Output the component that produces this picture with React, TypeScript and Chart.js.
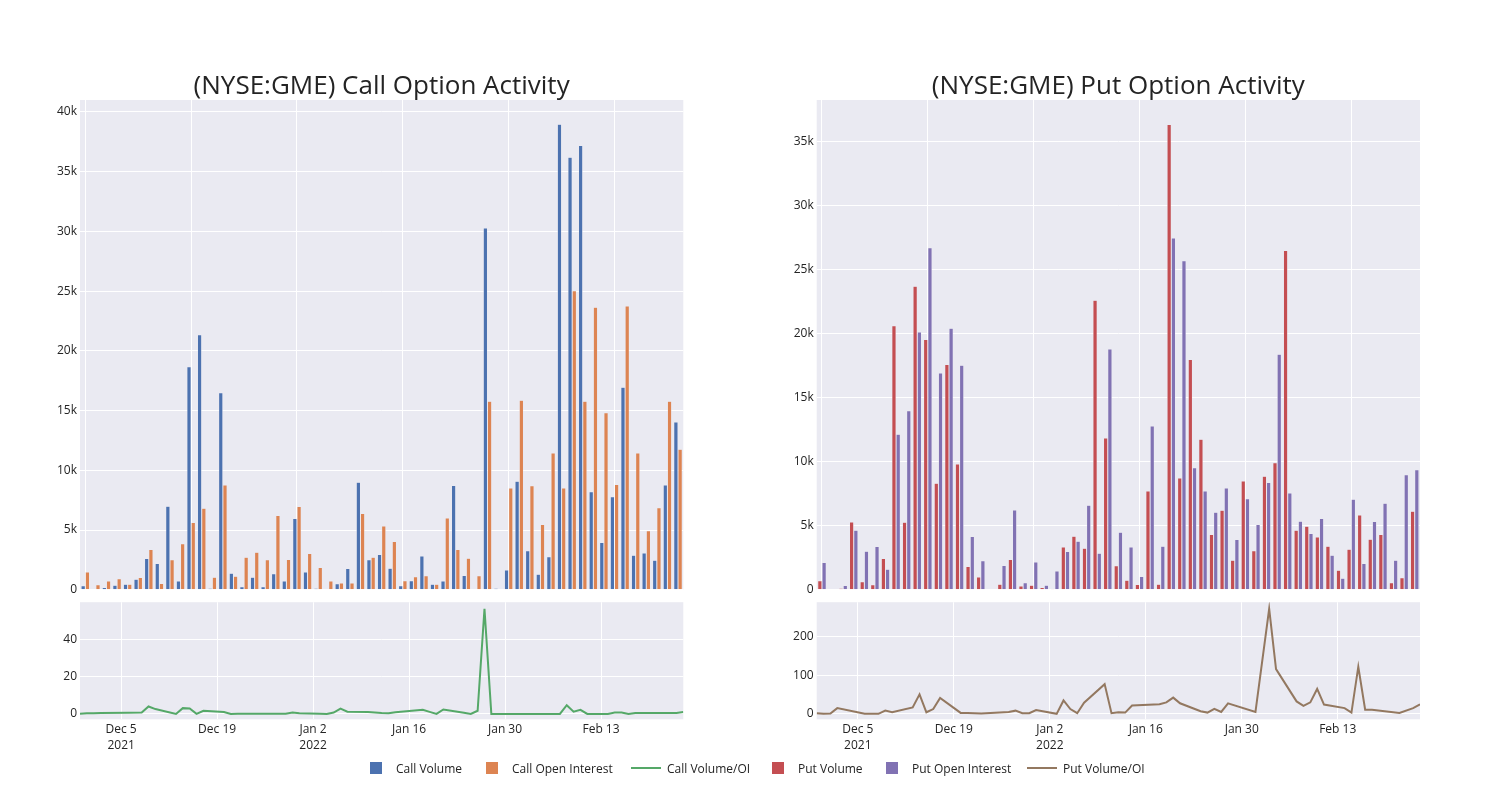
import React, { useEffect, useRef } from "react";
import { Chart, registerables } from "chart.js";

Chart.register(...registerables);

// ---------- data ----------
const barDates = [
  "2021-11-29", "2021-11-30", "2021-12-01", "2021-12-02", "2021-12-06", "2021-12-08", "2021-12-09", "2021-12-10",
  "2021-12-13", "2021-12-14", "2021-12-15", "2021-12-16", "2021-12-17", "2021-12-20", "2021-12-21", "2021-12-22",
  "2021-12-23", "2021-12-27", "2021-12-28", "2021-12-29", "2021-12-30", "2021-12-31", "2022-01-03", "2022-01-04",
  "2022-01-05", "2022-01-06", "2022-01-07", "2022-01-10", "2022-01-11", "2022-01-12", "2022-01-13", "2022-01-14",
  "2022-01-18", "2022-01-19", "2022-01-20", "2022-01-21", "2022-01-24", "2022-01-25", "2022-01-26", "2022-01-27",
  "2022-01-28", "2022-02-01", "2022-02-03", "2022-02-04", "2022-02-07", "2022-02-08", "2022-02-09", "2022-02-10",
  "2022-02-11", "2022-02-14", "2022-02-15", "2022-02-16", "2022-02-17", "2022-02-18", "2022-02-22", "2022-02-24",
  "2022-02-25",
];
const lineDates = barDates;

const callVolume = [
  330, 50, 200, 390, 470, 890, 2620, 2200, 7000, 730, 18680, 21360, 140, 16500, 1390, 250, 1060, 250, 1340, 730,
  5970, 1500, 140, 60, 500, 1780, 9000, 2510, 2960, 1810, 330, 750, 2820, 470, 730, 8730, 1200, 60, 30280, 140,
  1650, 9090, 3260, 1310, 2760, 38980, 36200, 37200, 8200, 3960, 7780, 16950, 2900, 3070, 2480, 8780, 14050,
];
const callOpenInterest = [
  1480, 420, 730, 920, 470, 1030, 3370, 530, 2510, 3850, 5630, 6830, 1060, 8780, 1140, 2730, 3150, 2510, 6220, 2540,
  6970, 3040, 1870, 730, 560, 560, 6390, 2730, 5350, 4040, 750, 1090, 1170, 470, 6020, 3370, 2650, 1170, 15780, 0,
  8530, 15870, 8700, 5470, 11460, 8530, 25040, 15780, 23650, 14810, 8810, 23760, 11460, 4940, 6860, 15780, 11770,
];
const putVolume = [
  700, 0, 130, 5300, 620, 390, 2440, 20630, 5280, 23700, 19540, 8320, 17590, 9820, 1820, 990, 0, 440, 2360, 290,
  360, 180, 80, 3350, 4180, 3250, 22610, 11850, 1870, 750, 420, 7720, 440, 36330, 8730, 17980, 11750, 4310, 6210, 2310,
  8500, 3040, 8860, 9930, 26500, 4650, 4960, 4130, 3400, 1530, 3170, 5850, 3950, 4310, 550, 940, 6130,
];
const putOpenInterest = [
  2130, 50, 340, 4650, 3010, 3380, 1610, 12140, 13980, 20140, 26710, 16940, 20430, 17540, 4160, 2260, 0, 1900, 6240, 550,
  2180, 360, 1460, 2990, 3790, 6600, 2860, 18810, 4500, 3350, 1040, 12790, 3400, 27470, 25700, 9540, 7720, 6050, 7950, 3920,
  7120, 5090, 8370, 18400, 7560, 5350, 4390, 5560, 2700, 910, 7070, 2050, 5330, 6760, 2310, 8990, 9380,
];
const callVolumeOI = [
  0.1, 0.3, 0.4, 0.5, 0.6, 0.7, 4.0, 2.6, 0.0, 3.1, 2.9, 0.0, 1.7, 1.0, 0.0, 0.1, 0.1, 0.1, 0.1, 0.1,
  0.7, 0.3, 0.1, 0.0, 0.7, 2.8, 1.2, 1.0, 0.8, 0.5, 0.4, 0.9, 2.2, 1.1, 0.0, 2.4, 0.6, 0.0, 1.7, 56.5,
  0.0, 0.0, 0.0, 0.0, 0.0, 4.7, 1.2, 2.2, 0.0, 0.0, 0.7, 0.7, 0.0, 0.5, 0.5, 0.5, 1.0,
];
const putVolumeOI = [
  1.7, 0, 0.8, 14.9, 0, 0, 8.3, 4.1, 16.5, 50.4, 4.1, 12.4, 41.3, 2.5, 2.5, 1.5, 0.8, 5, 8.3, 1.7,
  1.7, 9.9, 0, 34.7, 12.4, 1.7, 28.9, 76.9, 1.7, 4.1, 3.3, 21.5, 24.8, 29.8, 42, 27.3, 6.6, 3.3, 13.2, 5,
  27.3, 5, 272, 115.7, 32.2, 20.7, 29.8, 64.5, 24, 14.9, 3.3, 122, 10.7, 10.7, 2.5, 14.9, 24.8,
];

const xTickDates = ["2021-12-05", "2021-12-19", "2022-01-02", "2022-01-16", "2022-01-30", "2022-02-13"];
const xTickLabels: (string | string[])[] = [["Dec 5", "2021"], "Dec 19", ["Jan 2", "2022"], "Jan 16", "Jan 30", "Feb 13"];
const callBarTicks = [0, 5000, 10000, 15000, 20000, 25000, 30000, 35000, 40000];
const putBarTicks = [0, 5000, 10000, 15000, 20000, 25000, 30000, 35000];
const callRatioTicks = [0, 20, 40];
const putRatioTicks = [0, 100, 200];

// ---------- styling ----------
const PLOT_BG = "#eaeaf2";
const TEXT = "#242424";
const C_BLUE = "#4c72b0";
const C_ORANGE = "#dd8452";
const C_GREEN = "#55a868";
const C_RED = "#c44e52";
const C_PURPLE = "#8172b3";
const C_BROWN = "#937860";
const FONT = '"Open Sans", "DejaVu Sans", sans-serif';

Chart.defaults.font.family = FONT;
Chart.defaults.font.size = 12;
Chart.defaults.color = TEXT;

const bgPlugin = {
  id: "plotBg",
  beforeDraw(chart: any) {
    const { ctx, chartArea: a } = chart;
    ctx.save();
    ctx.fillStyle = PLOT_BG;
    ctx.fillRect(a.left, a.top, a.right - a.left, a.bottom - a.top);
    ctx.restore();
  },
};

const toUTC = (s: string) => {
  const [y, m, d] = s.split("-").map(Number);
  return Date.UTC(y, m - 1, d);
};
const dayOf = (s: string) => (toUTC(s) - toUTC(lineDates[0])) / 86400000;

type Rect = { l: number; t: number; r: number; b: number };
type Box = { x: number; y: number; w: number; h: number };
const Y_W = 60;

function padFor(plot: Rect, cv: Box, xh: number) {
  return {
    left: plot.l - cv.x - Y_W,
    top: plot.t - cv.y,
    right: cv.x + cv.w - plot.r,
    bottom: cv.y + cv.h - plot.b - xh,
  };
}

const kFmt = (v: number) => (v === 0 ? "0" : `${v / 1000}k`);

function barConfig(
  vol: number[], oi: number[], labels: [string, string], colors: [string, string],
  yMax: number, yTicks: number[], plot: Rect, cv: Box
): any {
  return {
    type: "bar",
    data: {
      labels: barDates,
      datasets: [
        { label: labels[0], data: vol, backgroundColor: colors[0], borderColor: PLOT_BG, borderWidth: 0.5, categoryPercentage: 0.8, barPercentage: 1 },
        { label: labels[1], data: oi, backgroundColor: colors[1], borderColor: PLOT_BG, borderWidth: 0.5, categoryPercentage: 0.8, barPercentage: 1 },
      ],
    },
    options: {
      responsive: false,
      animation: false,
      devicePixelRatio: 1,
      layout: { padding: padFor(plot, cv, 0) },
      plugins: { legend: { display: false }, tooltip: { enabled: false }, title: { display: false } },
      scales: {
        x: {
          type: "category",
          offset: true,
          grid: {
            offset: false,
            drawTicks: false,
            lineWidth: 1,
            color: (c: any) => (c.index % 10 === 0 ? "#ffffff" : "rgba(0,0,0,0)"),
          },
          border: { display: false },
          ticks: { display: false, autoSkip: false },
          afterFit: (s: any) => { s.height = 0; },
        },
        y: {
          min: 0,
          max: yMax,
          grid: { color: "#ffffff", drawTicks: false, lineWidth: 1 },
          border: { display: false },
          ticks: { padding: 3, color: TEXT, callback: (v: any) => kFmt(Number(v)) },
          afterBuildTicks: (s: any) => { s.ticks = yTicks.map((v) => ({ value: v })); },
          afterFit: (s: any) => { s.width = Y_W; },
        },
      },
    },
    plugins: [bgPlugin],
  };
}

function lineConfig(
  vals: number[], label: string, color: string, yMin: number, yMax: number, yTicks: number[], plot: Rect, cv: Box
): any {
  const xh = 50;
  const tickDays = xTickDates.map(dayOf);
  return {
    type: "line",
    data: {
      datasets: [
        {
          label,
          data: lineDates.map((d, i) => ({ x: dayOf(d), y: vals[i] })),
          borderColor: color,
          backgroundColor: color,
          borderWidth: 2,
          pointRadius: 0,
          tension: 0,
          fill: false,
        },
      ],
    },
    options: {
      responsive: false,
      animation: false,
      devicePixelRatio: 1,
      layout: { padding: padFor(plot, cv, xh) },
      plugins: { legend: { display: false }, tooltip: { enabled: false }, title: { display: false } },
      scales: {
        x: {
          type: "linear",
          min: 0,
          max: dayOf(lineDates[lineDates.length - 1]),
          grid: { color: "#ffffff", drawTicks: false, lineWidth: 1 },
          border: { display: false },
          ticks: {
            padding: 2,
            autoSkip: false,
            maxRotation: 0,
            color: TEXT,
            font: { size: 12, lineHeight: 1.35 },
            callback: (_v: any, i: number) => xTickLabels[i],
          },
          afterBuildTicks: (s: any) => { s.ticks = tickDays.map((v) => ({ value: v })); },
          afterFit: (s: any) => { s.height = xh; },
        },
        y: {
          min: yMin,
          max: yMax,
          grid: { color: "#ffffff", drawTicks: false, lineWidth: 1 },
          border: { display: false },
          ticks: { padding: 3, color: TEXT },
          afterBuildTicks: (s: any) => { s.ticks = yTicks.map((v) => ({ value: v })); },
          afterFit: (s: any) => { s.width = Y_W; },
        },
      },
    },
    plugins: [bgPlugin],
  };
}

// ---------- layout ----------
const callTopPlot: Rect = { l: 80, t: 100, r: 683.3, b: 590.7 };
const callBotPlot: Rect = { l: 80, t: 596.7, r: 683.3, b: 719.3 };
const putTopPlot: Rect = { l: 816.7, t: 100, r: 1420, b: 590.7 };
const putBotPlot: Rect = { l: 816.7, t: 596.7, r: 1420, b: 719.3 };
const callTopCv: Box = { x: 10, y: 85, w: 685, h: 515 };
const callBotCv: Box = { x: 10, y: 592, w: 685, h: 190 };
const putTopCv: Box = { x: 745, y: 85, w: 685, h: 515 };
const putBotCv: Box = { x: 745, y: 592, w: 685, h: 190 };

const legendItems = [
  { kind: "box", color: C_BLUE, label: "Call Volume", x: 370 },
  { kind: "box", color: C_ORANGE, label: "Call Open Interest", x: 486 },
  { kind: "line", color: C_GREEN, label: "Call Volume/OI", x: 631 },
  { kind: "box", color: C_RED, label: "Put Volume", x: 772 },
  { kind: "box", color: C_PURPLE, label: "Put Open Interest", x: 886 },
  { kind: "line", color: C_BROWN, label: "Put Volume/OI", x: 1027 },
];

export default function App() {
  const r1 = useRef<HTMLCanvasElement>(null);
  const r2 = useRef<HTMLCanvasElement>(null);
  const r3 = useRef<HTMLCanvasElement>(null);
  const r4 = useRef<HTMLCanvasElement>(null);

  useEffect(() => {
    const charts = [
      new Chart(r1.current!, barConfig(callVolume, callOpenInterest, ["Call Volume", "Call Open Interest"], [C_BLUE, C_ORANGE], 41000, callBarTicks, callTopPlot, callTopCv)),
      new Chart(r2.current!, lineConfig(callVolumeOI, "Call Volume/OI", C_GREEN, -2.9, 60, callRatioTicks, callBotPlot, callBotCv)),
      new Chart(r3.current!, barConfig(putVolume, putOpenInterest, ["Put Volume", "Put Open Interest"], [C_RED, C_PURPLE], 38250, putBarTicks, putTopPlot, putTopCv)),
      new Chart(r4.current!, lineConfig(putVolumeOI, "Put Volume/OI", C_BROWN, -14.1, 289, putRatioTicks, putBotPlot, putBotCv)),
    ];
    return () => charts.forEach((c) => c.destroy());
  }, []);

  const cvStyle = (b: Box): React.CSSProperties => ({ position: "absolute", left: b.x, top: b.y, width: b.w, height: b.h });
  const titleStyle = (p: Rect): React.CSSProperties => ({
    position: "absolute", left: p.l, width: p.r - p.l, top: 66, textAlign: "center",
    fontSize: 26, lineHeight: "36px", whiteSpace: "nowrap",
  });

  return (
    <div style={{ position: "absolute", left: 0, top: 0, width: 1500, height: 800, background: "#fff", fontFamily: FONT, color: TEXT, overflow: "hidden" }}>
      <canvas ref={r1} width={callTopCv.w} height={callTopCv.h} style={cvStyle(callTopCv)} />
      <canvas ref={r2} width={callBotCv.w} height={callBotCv.h} style={cvStyle(callBotCv)} />
      <canvas ref={r3} width={putTopCv.w} height={putTopCv.h} style={cvStyle(putTopCv)} />
      <canvas ref={r4} width={putBotCv.w} height={putBotCv.h} style={cvStyle(putBotCv)} />

      <div style={titleStyle(callTopPlot)}>(NYSE:GME) Call Option Activity</div>
      <div style={titleStyle(putTopPlot)}>(NYSE:GME) Put Option Activity</div>

      {legendItems.map((it) => (
        <div key={it.label} style={{ position: "absolute", left: it.x, top: 760, height: 16, display: "flex", alignItems: "center", fontSize: 12, whiteSpace: "nowrap" }}>
          {it.kind === "box" ? (
            <span style={{ display: "inline-block", width: 12, height: 12, background: it.color, marginRight: 14 }} />
          ) : (
            <span style={{ display: "inline-block", width: 30, height: 2, background: it.color, marginRight: 6 }} />
          )}
          <span>{it.label}</span>
        </div>
      ))}
    </div>
  );
}
